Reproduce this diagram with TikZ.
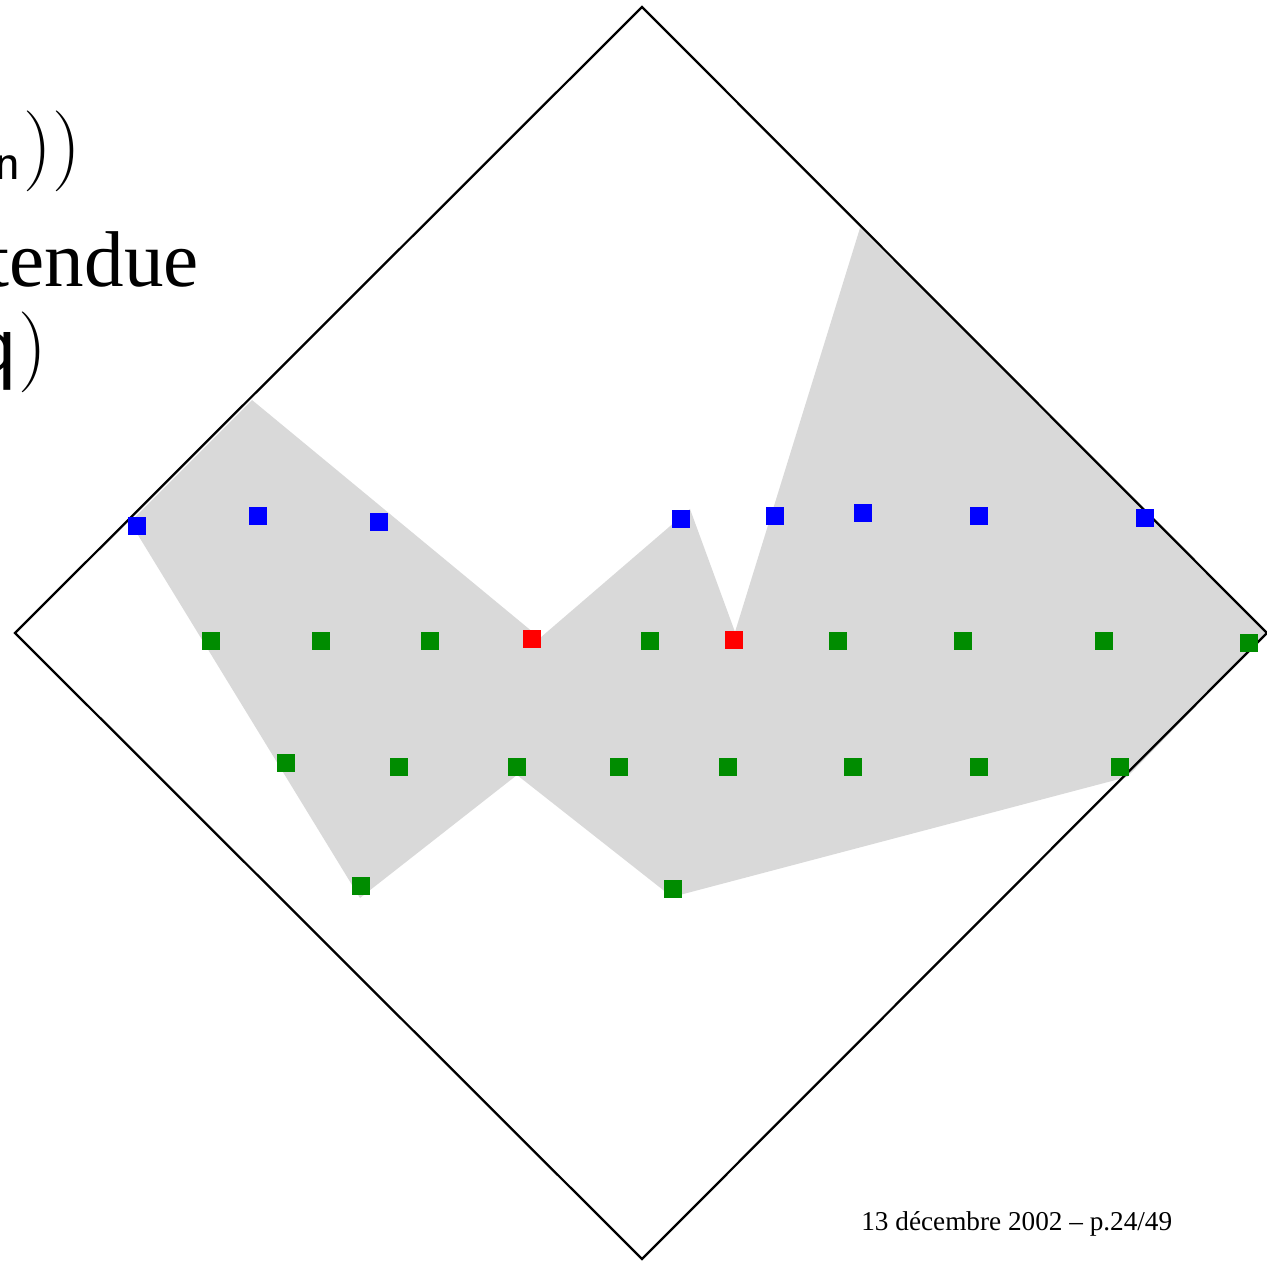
\documentclass[tikz,border=0pt]{standalone}
\usepackage{fontspec}
\newfontfamily\timesf{Liberation Serif}
\definecolor{sqblue}{RGB}{0,0,255}
\definecolor{sqgreen}{RGB}{0,140,0}
\definecolor{sqred}{RGB}{255,0,0}
\definecolor{regiongray}{RGB}{217,217,217}
\tikzset{
  sq/.style={rectangle, minimum size=0.36cm, inner sep=0pt, draw=none},
  bsq/.style={sq, fill=sqblue},
  gsq/.style={sq, fill=sqgreen},
  rsq/.style={sq, fill=sqred},
  bigtext/.style={inner sep=0pt, anchor=base east},
}
\begin{document}
\begin{tikzpicture}[x=0.02cm, y=-0.02cm]
\useasboundingbox (0,0) rectangle (1267,1266);
% shaded region
\fill[regiongray] (252,400) -- (540,638) -- (690,509) -- (735,632) -- (860,228)
  -- (1267,633) -- (1127,777) -- (672,897) -- (517,775) -- (360,898) -- (130,522) -- cycle;
% diamond
\draw[line width=1.3pt, line join=miter] (642,7) -- (1267,633) -- (642,1259) -- (15,633) -- cycle;
% blue squares
\node[bsq] (b1) at (137,526) {};
\node[bsq] (b2) at (258,516) {};
\node[bsq] (b3) at (379,522) {};
\node[bsq] (b4) at (681,519) {};
\node[bsq] (b5) at (775,516) {};
\node[bsq] (b6) at (863,513) {};
\node[bsq] (b7) at (979,516) {};
\node[bsq] (b8) at (1145,518) {};
% green row 1
\node[gsq] (g1) at (211,641) {};
\node[gsq] (g2) at (321,641) {};
\node[gsq] (g3) at (430,641) {};
\node[gsq] (g4) at (650,641) {};
\node[gsq] (g5) at (838,641) {};
\node[gsq] (g6) at (963,641) {};
\node[gsq] (g7) at (1104,641) {};
\node[gsq] (g8) at (1249,643) {};
% red
\node[rsq] (r1) at (532,639) {};
\node[rsq] (r2) at (734,640) {};
% green row 2
\node[gsq] (h1) at (286,763) {};
\node[gsq] (h2) at (399,767) {};
\node[gsq] (h3) at (517,767) {};
\node[gsq] (h4) at (619,767) {};
\node[gsq] (h5) at (728,767) {};
\node[gsq] (h6) at (853,767) {};
\node[gsq] (h7) at (979,767) {};
\node[gsq] (h8) at (1120,767) {};
% green row 3
\node[gsq] (k1) at (361,886) {};
\node[gsq] (k2) at (673,889) {};
% texts
\node[bigtext] (t1) at (81,172) {{\sffamily\fontsize{31}{36}\selectfont\raisebox{-4.5pt}{n}}\hspace{1.5pt}\fontsize{46}{54}\selectfont))};
\node[bigtext] (t2) at (199,287) {\timesf\fontsize{45}{54}\selectfont tendue};
\node[bigtext] (t3) at (47,373) {{\sffamily\fontsize{52}{60}\selectfont q}\fontsize{46}{54}\selectfont)};
\node[inner sep=0pt, anchor=base west] (foot) at (861,1230) {\timesf\fontsize{15.5}{18}\selectfont 13 décembre 2002 – p.24/49};
\end{tikzpicture}
\end{document}
